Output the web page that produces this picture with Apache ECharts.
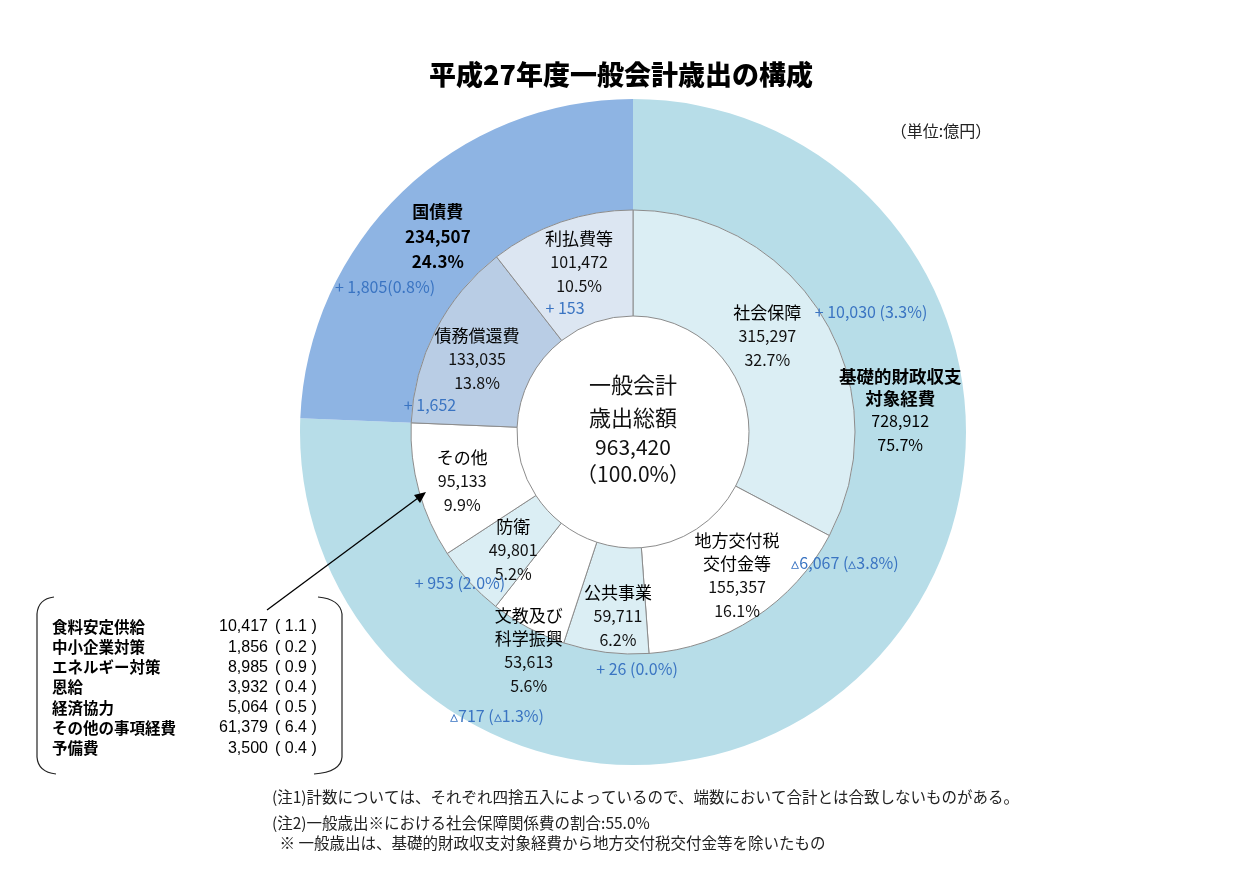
<!DOCTYPE html>
<html><head><meta charset="utf-8">
<script src="https://cdn.jsdelivr.net/npm/echarts@6/dist/echarts.min.js"></script>
<style>html,body{margin:0;padding:0;background:#fff}#c{width:1248px;height:888px}</style>
</head><body><div id="c"></div><script>
// ---- data ----
const outerNames = ['基礎的財政収支対象経費', '国債費'];
const outerLabels = ['基礎的財政収支\n対象経費', '国債費'];
const outerValues = [728912, 234507];
const outerPct = ['75.7%', '24.3%'];

const innerNames = ['社会保障', '地方交付税交付金等', '公共事業', '文教及び科学振興', '防衛', 'その他', '債務償還費', '利払費等'];
const innerLabels = ['社会保障', '地方交付税\n交付金等', '公共事業', '文教及び\n科学振興', '防衛', 'その他', '債務償還費', '利払費等'];
const innerValues = [315297, 155357, 59711, 53613, 49801, 95133, 133035, 101472];
const innerPct = ['32.7%', '16.1%', '6.2%', '5.6%', '5.2%', '9.9%', '13.8%', '10.5%'];

const centerLines = ['一般会計', '歳出総額', '963,420', '（100.0%）'];

const otherItems = ['食料安定供給', '中小企業対策', 'エネルギー対策', '恩給', '経済協力', 'その他の事項経費', '予備費'];
const otherValues = [10417, 1856, 8985, 3932, 5064, 61379, 3500];
const otherPct = ['1.1', '0.2', '0.9', '0.4', '0.5', '6.4', '0.4'];

const deltaTexts = ['+ 1,805(0.8%)', '+ 153', '+ 1,652', '+ 10,030 (3.3%)', '▵6,067 (▵3.8%)', '+ 26 (0.0%)', '▵717 (▵1.3%)', '+ 953 (2.0%)'];

const titleText = '平成27年度一般会計歳出の構成';
const unitText = '（単位:億円）';
const notes = [
  '(注1)計数については、それぞれ四捨五入によっているので、端数において合計とは合致しないものがある。',
  '(注2)一般歳出※における社会保障関係費の割合:55.0%',
  ' ※ 一般歳出は、基礎的財政収支対象経費から地方交付税交付金等を除いたもの'
];

// ---- styles / layout ----
const JP = '"Noto Sans CJK JP"';
const NUM = '"Noto Sans CJK JP",sans-serif';
const outerColors = ['#b7dde8', '#8eb4e3'];
const innerColors = ['#dbeef4', '#ffffff', '#dbeef4', '#ffffff', '#dbeef4', '#ffffff', '#b9cde5', '#dce6f2'];
const CX = 633, CY = 432;
const outerShift = [[73, -223], [-1, 7]];
const innerShift = [[-13, -7], [10, 0], [6, 14], [-23, 67], [7, 2], [-5, 4], [-3, 6], [2, -7]];
const deltaPos = [[385, 287], [565, 308], [430, 405], [871, 312], [845, 563], [637, 669], [497, 716], [460, 583]];
const BLUE = '#3a74c2';

function fmt(v) { return v.toLocaleString('en-US'); }
function nameRich(name, tag) { return name.split('\n').map(s => '{' + tag + '|' + s + '}').join('\n'); }

const chart = echarts.init(document.getElementById('c'), null, {renderer: 'canvas'});

const graphics = [];
function txt(text, x, y, font, fill, align) {
  graphics.push({
    type: 'text', x: x, y: y, silent: true, z: 100,
    style: {text: text, font: font, fill: fill || '#000', align: align || 'center', verticalAlign: 'middle',
            textAlign: align || 'center', textVerticalAlign: 'middle'}
  });
}
txt(titleText, 621, 75, '900 27px ' + JP, '#000');
txt(unitText, 941, 131, '16px ' + JP, '#222');
// center
const cY = [385, 418, 447, 474];
const cFont = ['22px ' + JP, '22px ' + JP, '21px ' + NUM, '21px ' + NUM];
centerLines.forEach((s, i) => txt(s, CX, cY[i], cFont[i], '#111'));
// deltas
deltaTexts.forEach((s, i) => txt(s, deltaPos[i][0], deltaPos[i][1], '16px ' + NUM, BLUE));
// box
otherItems.forEach((s, i) => {
  const y = 627 + i * 20.2;
  txt(s, 52, y, 'bold 15.5px ' + JP, '#000', 'left');
  txt(fmt(otherValues[i]), 268, y, '16px "Liberation Sans",' + JP, '#000', 'right');
  txt('( ' + otherPct[i] + ' )', 275, y, '16px "Liberation Sans",' + JP, '#000', 'left');
});
// brackets
const br = {stroke: '#222', lineWidth: 1.2, fill: null};
graphics.push({type: 'bezierCurve', silent: true, shape: {x1: 54, y1: 597, x2: 37, y2: 614, cpx1: 38, cpy1: 599}, style: br});
graphics.push({type: 'line', silent: true, shape: {x1: 37, y1: 614, x2: 37, y2: 757}, style: br});
graphics.push({type: 'bezierCurve', silent: true, shape: {x1: 37, y1: 757, x2: 56, y2: 774, cpx1: 38, cpy1: 772}, style: br});
graphics.push({type: 'bezierCurve', silent: true, shape: {x1: 318, y1: 597, x2: 342, y2: 614, cpx1: 340, cpy1: 599}, style: br});
graphics.push({type: 'line', silent: true, shape: {x1: 342, y1: 614, x2: 342, y2: 757}, style: br});
graphics.push({type: 'bezierCurve', silent: true, shape: {x1: 342, y1: 757, x2: 314, y2: 774, cpx1: 341, cpy1: 772}, style: br});
// arrow
graphics.push({type: 'line', silent: true, z: 50, shape: {x1: 267, y1: 610, x2: 418, y2: 498}, style: {stroke: '#000', lineWidth: 1.3}});
graphics.push({type: 'polygon', silent: true, z: 50, shape: {points: [[426, 492], [420, 503], [414, 495]]}, style: {fill: '#000'}});
// notes
const nY = [797, 823, 843];
const nX = [272, 272, 276];
notes.forEach((s, i) => txt(s, nX[i], nY[i], '15.5px ' + JP, '#222', 'left'));

const option = {
  backgroundColor: '#ffffff',
  animation: false,
  series: [
    {
      type: 'pie', name: 'outer', silent: true, startAngle: 90, clockwise: true,
      center: [CX, CY], radius: [222, 333], avoidLabelOverlap: false,
      itemStyle: {borderWidth: 0},
      label: {
        show: true, position: 'inside',
        formatter: p => nameRich(outerLabels[p.dataIndex], p.dataIndex === 0 ? 'nb' : 'n') + '\n{' + (p.dataIndex === 0 ? 'v' : 'vb') + '|' + fmt(p.value) + '}\n{' + (p.dataIndex === 0 ? 'v' : 'vb') + '|' + outerPct[p.dataIndex] + '}',
        rich: {
          n: {fontFamily: JP, fontWeight: 'bold', fontSize: 17, color: '#000', lineHeight: 25},
          nb: {fontFamily: JP, fontWeight: 'bold', fontSize: 17.5, color: '#000', lineHeight: 22},
          v: {fontFamily: NUM, fontSize: 16, color: '#000', lineHeight: 24},
          vb: {fontFamily: NUM, fontWeight: 'bold', fontSize: 17, color: '#000', lineHeight: 25}
        }
      },
      labelLine: {show: false},
      labelLayout: p => ({dx: outerShift[p.dataIndex][0], dy: outerShift[p.dataIndex][1]}),
      data: outerValues.map((v, i) => ({name: outerNames[i], value: v, itemStyle: {color: outerColors[i]}}))
    },
    {
      type: 'pie', name: 'inner', silent: true, startAngle: 90, clockwise: true,
      center: [CX, CY], radius: [116, 222], avoidLabelOverlap: false,
      itemStyle: {borderColor: '#8c8c8c', borderWidth: 1},
      label: {
        show: true, position: 'inside',
        formatter: p => nameRich(innerLabels[p.dataIndex], 'n') + '\n{v|' + fmt(p.value) + '}\n{v|' + innerPct[p.dataIndex] + '}',
        rich: {
          n: {fontFamily: JP, fontSize: 17, color: '#000', lineHeight: 23},
          v: {fontFamily: NUM, fontSize: 16, color: '#111', lineHeight: 24}
        }
      },
      labelLine: {show: false},
      labelLayout: p => ({dx: innerShift[p.dataIndex][0], dy: innerShift[p.dataIndex][1]}),
      data: innerValues.map((v, i) => ({name: innerNames[i], value: v, itemStyle: {color: innerColors[i]}}))
    }
  ],
  graphic: graphics
};
chart.setOption(option);
</script></body></html>
